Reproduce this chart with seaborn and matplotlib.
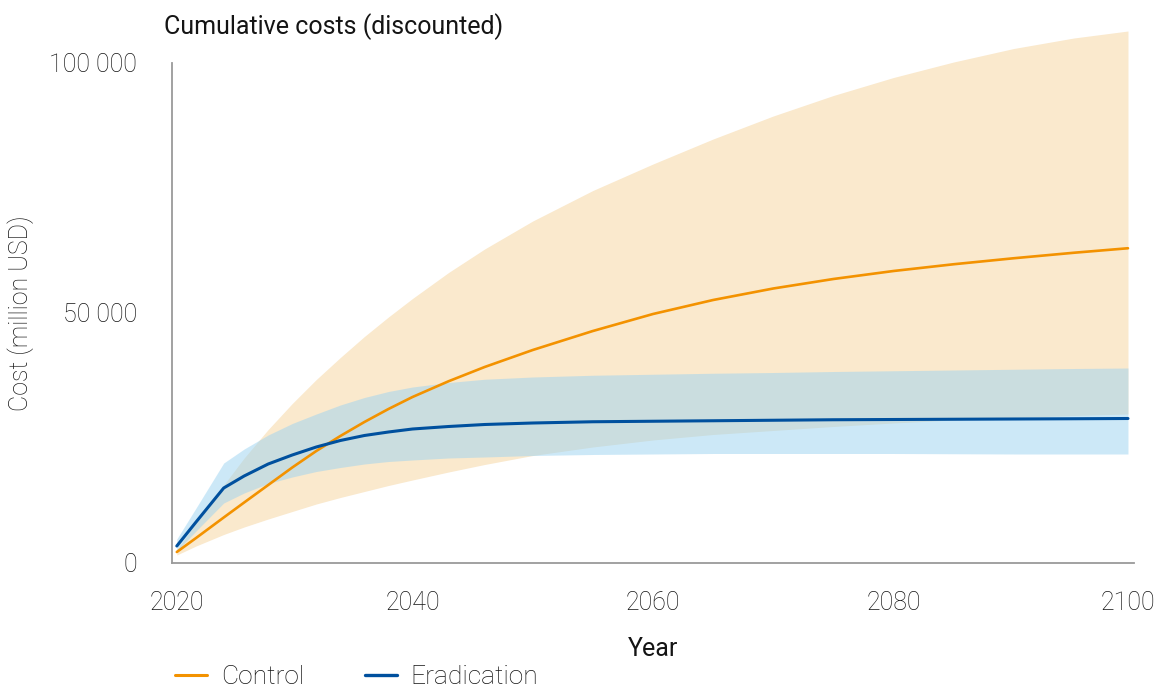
import matplotlib
matplotlib.use("Agg")
import matplotlib.pyplot as plt
import matplotlib.transforms as mtransforms
from matplotlib.lines import Line2D
import pandas as pd
import seaborn as sns

# ---------------- data ----------------
years = [2020.4, 2022, 2024.3, 2026, 2028, 2030, 2032, 2034, 2036, 2038, 2040, 2043,
         2046, 2050, 2055, 2060, 2065, 2070, 2075, 2080, 2085, 2090, 2095, 2099.5]

control_mid = [2200, 5000, 9100, 12100, 15600, 19100, 22400, 25400, 28200, 30800, 33200, 36350,
               39200, 42600, 46400, 49800, 52600, 54900, 56800, 58400, 59750, 60950, 62050, 62950]
control_hi = [2600, 8000, 15600, 21000, 26700, 31900, 36700, 41100, 45300, 49200, 52900, 58100,
              62800, 68400, 74500, 79800, 84800, 89400, 93500, 97100, 100200, 102900, 105000, 106400]
control_lo = [1600, 3400, 5700, 7200, 8800, 10300, 11800, 13100, 14300, 15500, 16600, 18200,
              19700, 21500, 23200, 24600, 25700, 26500, 27300, 28000, 28600, 29100, 29500, 29800]

erad_mid = [3400, 8200, 15000, 17400, 19800, 21600, 23200, 24500, 25500, 26200, 26800, 27300,
            27700, 28000, 28250, 28350, 28450, 28550, 28650, 28700, 28750, 28800, 28850, 28900]
erad_hi = [4800, 11000, 20000, 22800, 25600, 27900, 29800, 31600, 33100, 34300, 35200, 36100,
           36750, 37200, 37550, 37750, 37950, 38100, 38300, 38450, 38600, 38750, 38900, 39000]
erad_lo = [2400, 6400, 12000, 14000, 15900, 17200, 18300, 19100, 19800, 20300, 20600, 21000,
           21200, 21500, 21700, 21800, 21900, 21900, 21900, 21900, 21850, 21800, 21800, 21800]

series_names = ["Control", "Eradication"]
x_ticks = [2020, 2040, 2060, 2080, 2100]
y_ticks = [0, 50000, 100000]
y_tick_labels = ["0", "50 000", "100 000"]

title = "Cumulative costs (discounted)"
x_label = "Year"
y_label = "Cost (million USD)"

# ---------------- styling ----------------
ORANGE = "#F39200"
ORANGE_BAND = "#FAE9CD"
BLUE = "#00509E"
BLUE_BAND = "#9BD3F1"
AXIS_GREY = "#9a9a9a"
TEXT = "#141414"
FS = 18

sns.set_theme(style="white")
plt.rcParams["font.family"] = ["Roboto", "DejaVu Sans"]

W, H = 1157, 688
fig = plt.figure(figsize=(W / 100, H / 100), dpi=100)
ax = fig.add_axes([172 / W, 1 - 563 / H, (1134 - 172) / W, (563 - 63) / H])

df = pd.DataFrame({
    "Year": years * 2,
    "Cost": control_mid + erad_mid,
    "Scenario": [series_names[0]] * len(years) + [series_names[1]] * len(years),
})

# uncertainty bands
ax.fill_between(years, control_lo, control_hi, color=ORANGE_BAND, lw=0,
                clip_on=False, zorder=1)
ax.fill_between(years, erad_lo, erad_hi, color=BLUE_BAND, alpha=0.5, lw=0,
                clip_on=False, zorder=2)

sns.lineplot(data=df, x="Year", y="Cost", hue="Scenario",
             palette={series_names[0]: ORANGE, series_names[1]: BLUE},
             ax=ax, legend=False, zorder=3)
lines = ax.get_lines()
for ln in lines:
    ln.set_clip_on(False)
    ln.set_solid_joinstyle("round")
lines[0].set_linewidth(1.9)
lines[1].set_linewidth(2.2)

ax.set_xlim(2020, 2100)
ax.set_ylim(0, 100000)

for s in ["top", "right"]:
    ax.spines[s].set_visible(False)
for s in ["left", "bottom"]:
    ax.spines[s].set_color(AXIS_GREY)
    ax.spines[s].set_linewidth(1.3)

ax.set_xticks(x_ticks)
ax.set_xticklabels([str(t) for t in x_ticks])
ax.set_yticks(y_ticks)
ax.set_yticklabels(y_tick_labels)

ax.tick_params(axis="both", direction="in", length=8, width=1.3, color=AXIS_GREY,
               labelsize=FS, labelcolor=TEXT)
ax.tick_params(axis="x", pad=20)
ax.tick_params(axis="y", pad=25)
for lab in ax.get_xticklabels() + ax.get_yticklabels():
    lab.set_fontweight("light")

# small horizontal nudges of the end tick labels as in the reference
xl = ax.get_xticklabels()
xl[0].set_transform(xl[0].get_transform() + mtransforms.ScaledTranslation(5 / 100, 0, fig.dpi_scale_trans))
xl[-1].set_transform(xl[-1].get_transform() + mtransforms.ScaledTranslation(-6 / 100, 0, fig.dpi_scale_trans))

ax.set_xlabel(x_label, fontsize=FS, color=TEXT, labelpad=16)
ax.set_ylabel(y_label, fontsize=FS, color=TEXT, labelpad=11, fontweight="light")

fig.text(164 / W, 1 - 27 / H, title, fontsize=FS, color=TEXT, ha="left", va="center")

handles = [Line2D([], [], color=ORANGE, lw=2.2), Line2D([], [], color=BLUE, lw=2.4)]
leg = fig.legend(handles, series_names, loc="center left",
                 bbox_to_anchor=(175 / W, 1 - 677 / H), ncol=2, frameon=False,
                 fontsize=19, handlelength=1.21, handletextpad=0.53,
                 columnspacing=2.3, borderpad=0, borderaxespad=0)
for t in leg.get_texts():
    t.set_color(TEXT)
    t.set_fontweight("light")

fig.savefig("out.png", dpi=100)
